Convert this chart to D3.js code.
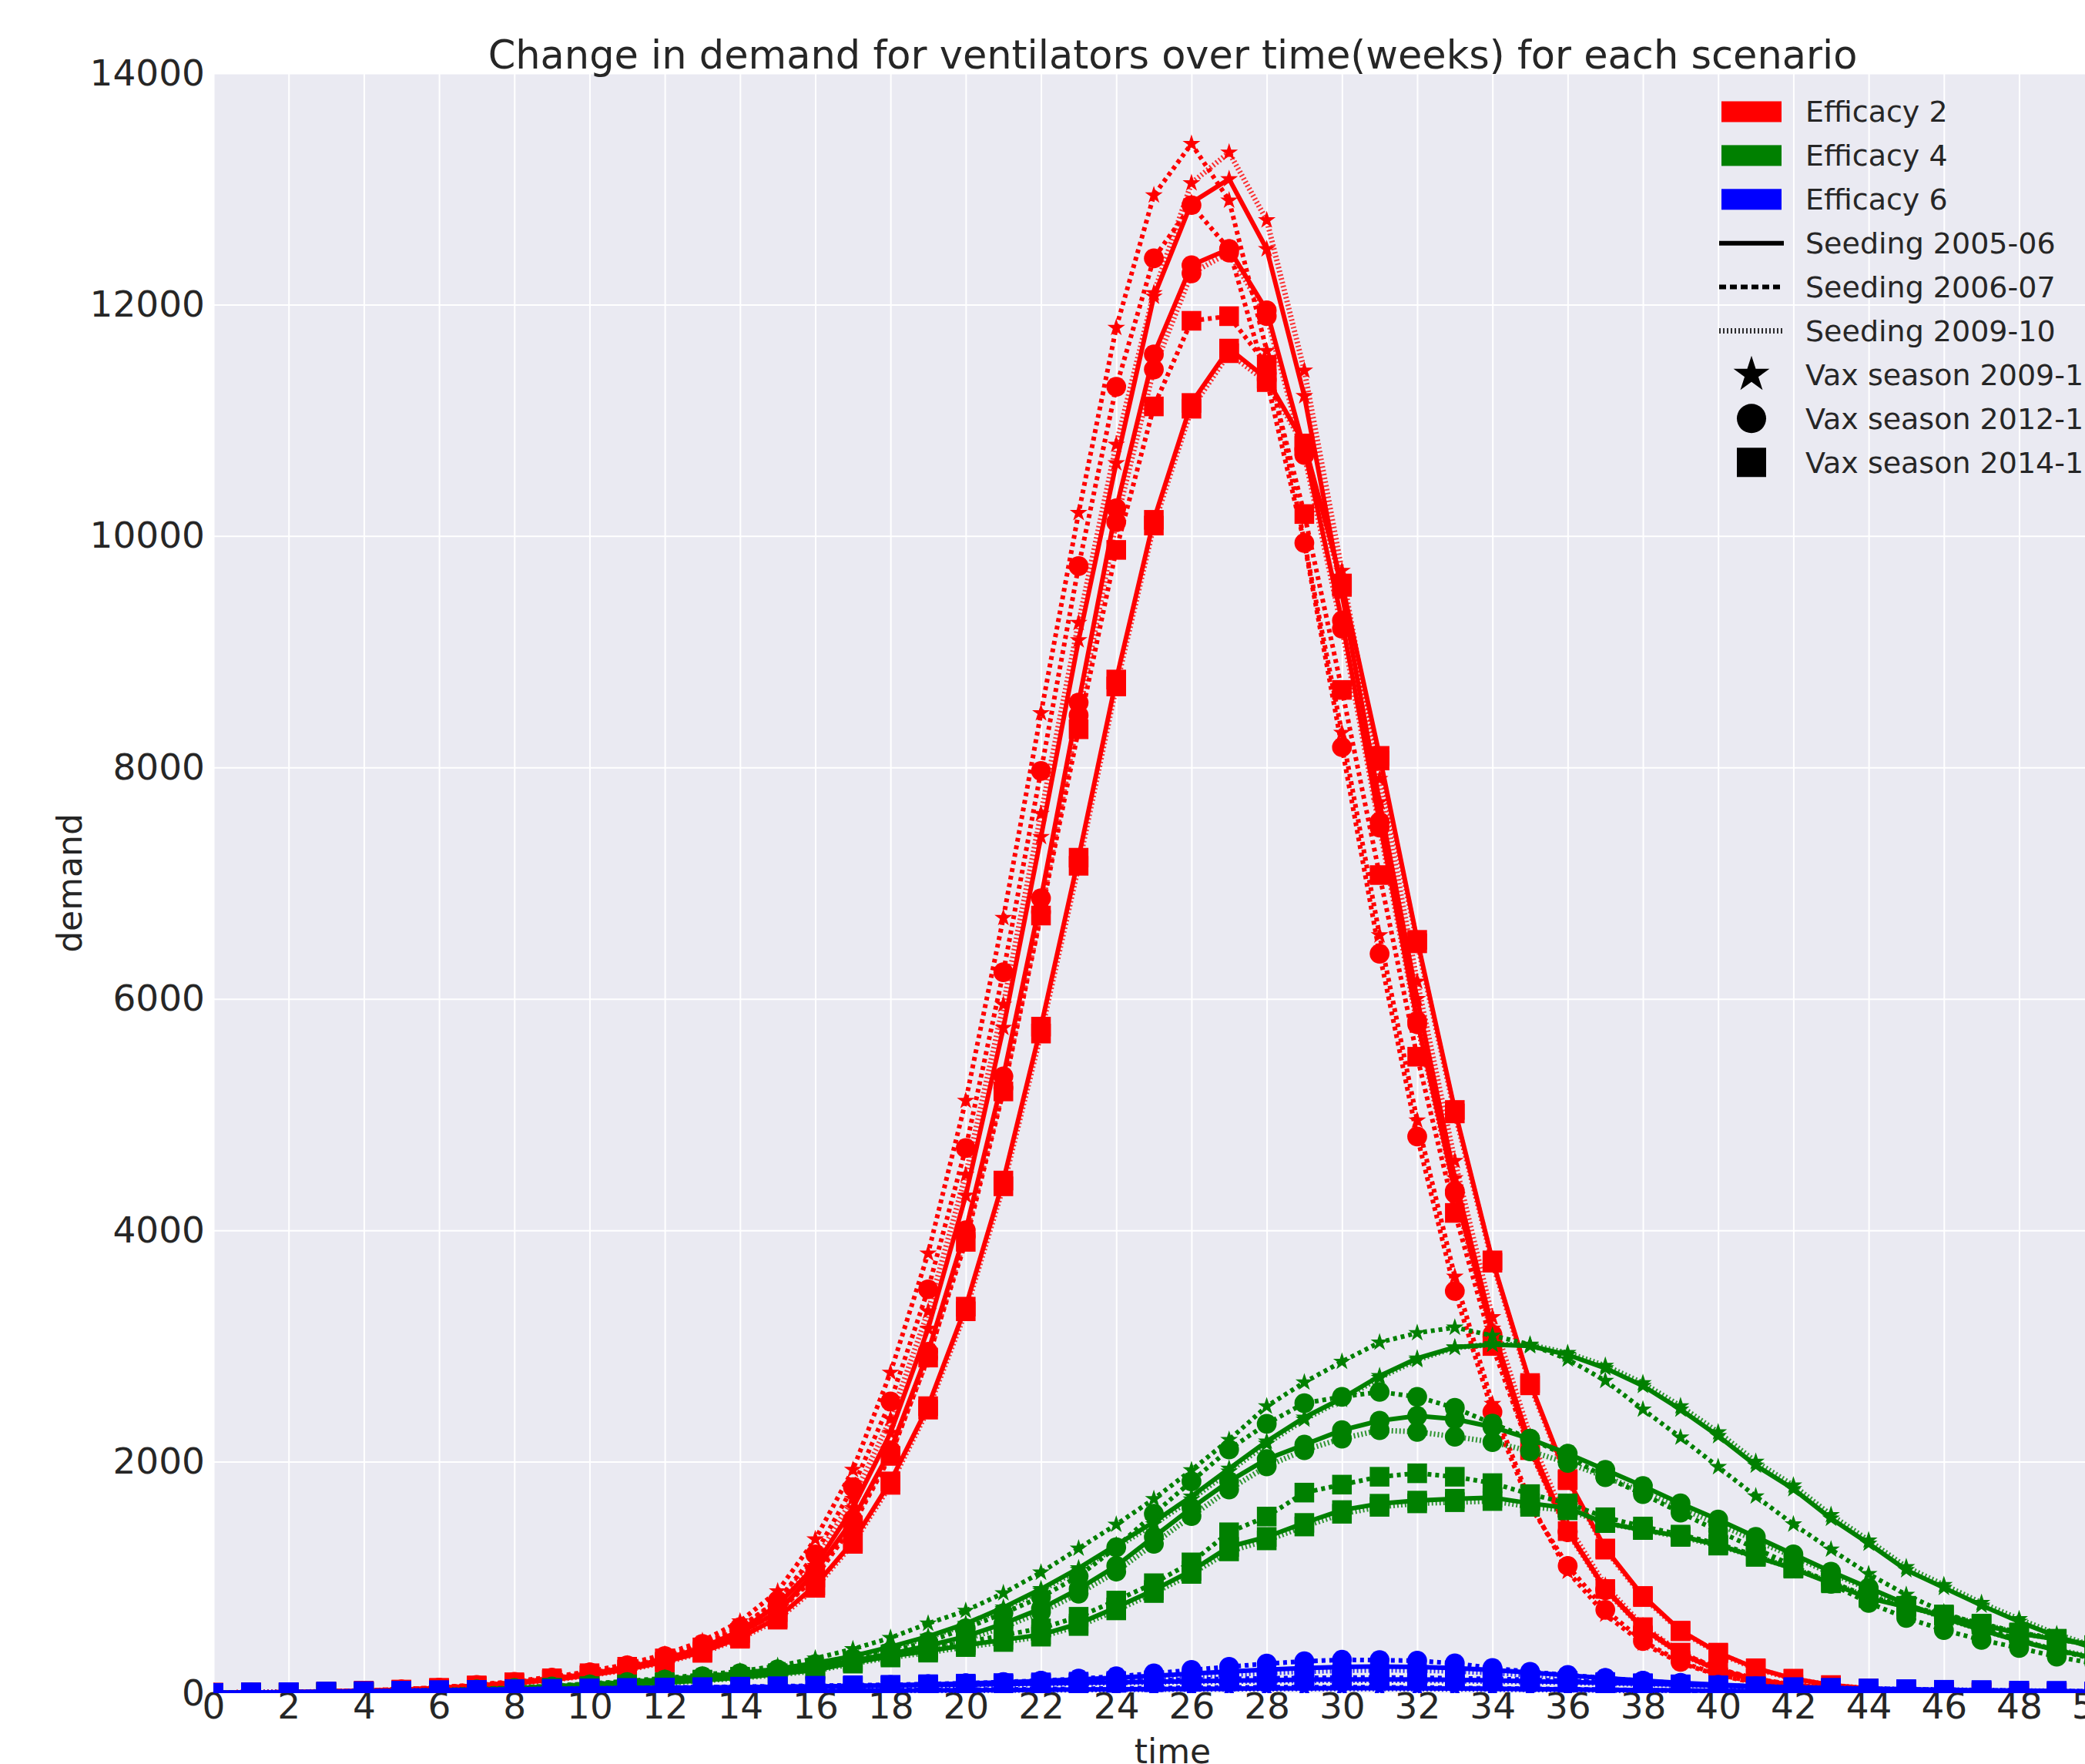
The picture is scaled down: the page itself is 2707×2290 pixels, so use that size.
<!DOCTYPE html>
<html>
<head>
<meta charset="utf-8">
<script src="https://cdn.jsdelivr.net/npm/d3@7"></script>
<style>
body { margin: 0; background: #ffffff; }
svg { display: block; }
</style>
</head>
<body>
<div id="chart"></div>
<script>
var width = 2707;
var height = 2290;

// weeks on the x axis
var weeks = [0, 1, 2, 3, 4, 5, 6, 7, 8, 9, 10, 11, 12, 13, 14, 15, 16, 17, 18, 19, 20, 21, 22, 23, 24, 25,
	26, 27, 28, 29, 30, 31, 32, 33, 34, 35, 36, 37, 38, 39, 40, 41, 42, 43, 44, 45, 46, 47, 48, 49, 50, 51];
var xTicks = [0, 2, 4, 6, 8, 10, 12, 14, 16, 18, 20, 22, 24, 26, 28, 30, 32, 34, 36, 38, 40, 42, 44, 46, 48, 50];
var yTicks = [0, 2000, 4000, 6000, 8000, 10000, 12000, 14000];

var efficacyNames = ["Efficacy 2", "Efficacy 4", "Efficacy 6"];
var seedingNames = ["Seeding 2005-06", "Seeding 2006-07", "Seeding 2009-10"];
var vaxNames = ["Vax season 2009-10", "Vax season 2012-13", "Vax season 2014-15"];

// Efficacy 2 (red)
var red_s1_star = [3, 5, 8, 13, 20, 30, 45, 65, 92, 125,
	168, 222, 295, 395, 540, 760, 1100, 1600, 2250, 3150,
	4300, 5750, 7400, 9100, 10630, 12070, 12880, 13085, 12480, 11210,
	9500, 7700, 6000, 4450, 3150, 2150, 1400, 900, 560, 340,
	200, 118, 68, 40, 23, 13, 8, 5, 3, 2, 1, 1];
var red_s1_circle = [3, 5, 8, 12, 19, 29, 44, 63, 89, 121,
	163, 215, 285, 382, 520, 700, 1050, 1500, 2100, 2950,
	4000, 5330, 6870, 8560, 10240, 11570, 12340, 12480, 11950, 10750,
	9270, 7530, 5810, 4340, 3100, 2120, 1400, 900, 560, 340,
	200, 118, 68, 40, 23, 13, 8, 5, 3, 2, 1, 1];
var red_s1_square = [3, 5, 7, 12, 18, 28, 42, 60, 85, 115,
	155, 205, 270, 355, 480, 650, 930, 1310, 1830, 2480,
	3340, 4430, 5760, 7220, 8760, 10140, 11150, 11620, 11360, 10800,
	9590, 8100, 6510, 5040, 3740, 2680, 1850, 1250, 840, 540,
	350, 215, 125, 70, 40, 22, 12, 7, 4, 2, 1, 1];
var red_s2_star = [3, 5, 9, 14, 22, 33, 50, 72, 102, 140,
	188, 250, 335, 450, 620, 880, 1330, 1930, 2770, 3800,
	5120, 6700, 8470, 10200, 11800, 12945, 13390, 12900, 11600, 9950,
	8300, 6550, 4950, 3600, 2500, 1650, 1050, 680, 430, 260,
	155, 90, 52, 30, 17, 10, 6, 3, 2, 1, 1, 0];
var red_s2_circle = [3, 5, 8, 14, 21, 32, 48, 70, 98, 134,
	180, 240, 320, 425, 570, 800, 1200, 1780, 2520, 3490,
	4710, 6230, 7970, 9740, 11290, 12400, 12860, 12480, 11350, 9940,
	8175, 6390, 4810, 3475, 2430, 1620, 1100, 720, 450, 270,
	160, 95, 55, 32, 18, 10, 6, 3, 2, 1, 1, 0];
var red_s2_square = [3, 5, 8, 13, 20, 31, 46, 67, 94, 128,
	172, 228, 300, 395, 520, 700, 1000, 1450, 2050, 2900,
	3900, 5200, 6720, 8330, 9880, 11120, 11860, 11900, 11480, 10190,
	8670, 7070, 5500, 4150, 3000, 2100, 1400, 900, 570, 350,
	210, 125, 72, 42, 24, 14, 8, 5, 3, 2, 1, 1];
var red_s3_star = [3, 5, 8, 13, 20, 30, 46, 66, 93, 127,
	170, 226, 300, 402, 555, 790, 1150, 1680, 2370, 3300,
	4480, 5950, 7600, 9250, 10790, 12100, 13050, 13315, 12730, 11430,
	9700, 7900, 6150, 4600, 3250, 2220, 1450, 930, 580, 350,
	205, 120, 70, 41, 24, 14, 8, 5, 3, 2, 1, 1];
var red_s3_circle = [3, 5, 8, 12, 19, 29, 43, 62, 88, 120,
	161, 212, 282, 378, 515, 690, 1030, 1480, 2070, 2900,
	3950, 5230, 6750, 8450, 10120, 11440, 12270, 12450, 11900, 10700,
	9200, 7480, 5780, 4320, 3080, 2100, 1390, 890, 555, 335,
	198, 116, 67, 39, 22, 13, 8, 5, 3, 2, 1, 1];
var red_s3_square = [3, 5, 7, 12, 18, 27, 41, 59, 83, 113,
	152, 200, 265, 348, 470, 635, 910, 1290, 1800, 2450,
	3300, 4380, 5700, 7150, 8700, 10090, 11100, 11580, 11330, 10780,
	9560, 8060, 6480, 5010, 3720, 2660, 1840, 1240, 830, 535,
	345, 210, 122, 68, 39, 21, 12, 7, 4, 2, 1, 1];

// Efficacy 4 (green)
var green_s1_star = [1, 2, 4, 7, 11, 16, 23, 32, 44, 58,
	75, 95, 118, 145, 172, 210, 260, 320, 400, 490,
	600, 740, 900, 1080, 1280, 1480, 1700, 1940, 2175, 2382,
	2548, 2741, 2893, 2989, 3013, 3000, 2924, 2809, 2656, 2452,
	2223, 1968, 1764, 1509, 1293, 1064, 911, 758, 618, 490, 389, 310];
var green_s1_circle = [1, 2, 4, 6, 10, 15, 21, 29, 40, 53,
	68, 86, 107, 132, 158, 190, 230, 280, 340, 410,
	490, 600, 730, 900, 1100, 1350, 1600, 1830, 2023, 2147,
	2272, 2354, 2396, 2368, 2300, 2197, 2070, 1930, 1790, 1640,
	1500, 1350, 1200, 1050, 910, 770, 650, 545, 450, 370, 305, 250];
var green_s1_square = [1, 2, 3, 5, 8, 12, 17, 24, 33, 44,
	57, 72, 90, 110, 135, 165, 200, 265, 320, 365,
	415, 460, 505, 600, 740, 891, 1057, 1264, 1350, 1471,
	1582, 1637, 1664, 1680, 1690, 1640, 1600, 1470, 1410, 1357,
	1280, 1178, 1076, 949, 821, 745, 669, 592, 516, 465, 414, 370];
var green_s2_star = [1, 2, 4, 7, 12, 17, 25, 35, 48, 63,
	82, 104, 130, 158, 190, 235, 300, 381, 478, 602,
	712, 864, 1043, 1250, 1457, 1678, 1927, 2189, 2479, 2686,
	2865, 3031, 3113, 3160, 3090, 3013, 2885, 2700, 2452, 2210,
	1955, 1701, 1459, 1242, 1030, 850, 700, 570, 460, 370, 295, 235];
var green_s2_circle = [1, 2, 4, 7, 11, 16, 23, 32, 44, 58,
	75, 95, 118, 145, 172, 205, 250, 300, 360, 445,
	560, 690, 830, 1010, 1260, 1550, 1830, 2106, 2327, 2506,
	2561, 2603, 2561, 2465, 2330, 2200, 2045, 1866, 1720, 1560,
	1400, 1250, 1100, 945, 780, 650, 545, 460, 390, 315, 255, 205];
var green_s2_square = [1, 2, 3, 5, 8, 12, 18, 25, 35, 47,
	60, 76, 95, 117, 142, 172, 210, 275, 335, 385,
	440, 500, 560, 660, 800, 950, 1130, 1390, 1526, 1733,
	1802, 1870, 1900, 1870, 1815, 1720, 1640, 1520, 1440, 1370,
	1290, 1190, 1085, 960, 835, 755, 680, 600, 525, 470, 415, 370];
var green_s3_star = [1, 2, 4, 7, 11, 16, 23, 32, 44, 58,
	75, 95, 118, 145, 170, 206, 255, 312, 390, 480,
	590, 728, 885, 1065, 1260, 1460, 1675, 1915, 2155, 2365,
	2535, 2725, 2880, 2985, 3015, 3010, 2940, 2830, 2680, 2480,
	2255, 2000, 1795, 1540, 1320, 1090, 935, 780, 640, 510, 405, 325];
var green_s3_circle = [1, 2, 4, 6, 10, 14, 20, 28, 38, 50,
	65, 82, 102, 126, 152, 182, 220, 265, 320, 385,
	465, 570, 700, 860, 1050, 1290, 1530, 1760, 1960, 2100,
	2200, 2272, 2258, 2216, 2170, 2090, 1990, 1870, 1740, 1600,
	1460, 1320, 1180, 1035, 900, 765, 650, 545, 455, 375, 310, 255];
var green_s3_square = [1, 2, 3, 5, 8, 12, 17, 23, 32, 42,
	55, 70, 87, 107, 130, 158, 192, 255, 308, 350,
	398, 442, 488, 580, 715, 865, 1030, 1225, 1320, 1440,
	1550, 1610, 1640, 1650, 1660, 1610, 1580, 1470, 1410, 1350,
	1275, 1180, 1080, 955, 830, 750, 675, 598, 520, 468, 416, 372];

// Efficacy 6 (blue)
var blue_s1_star = [0, 1, 1, 2, 3, 4, 5, 6, 7, 8,
	9, 10, 11, 12, 14, 15, 17, 19, 21, 23,
	25, 27, 29, 31, 33, 35, 37, 39, 41, 42,
	43, 43, 42, 40, 38, 35, 32, 29, 26, 23,
	20, 17, 15, 13, 11, 9, 8, 7, 6, 5, 4, 3];
var blue_s1_circle = [1, 2, 3, 4, 6, 8, 10, 13, 16, 19,
	23, 27, 31, 36, 41, 47, 53, 60, 67, 75,
	84, 94, 105, 118, 133, 150, 168, 186, 203, 217,
	226, 230, 227, 217, 200, 178, 154, 130, 108, 89,
	73, 59, 48, 39, 31, 25, 20, 16, 13, 10, 8, 7];
var blue_s1_square = [2, 5, 8, 12, 16, 20, 24, 28, 32, 36,
	40, 43, 46, 49, 52, 55, 58, 62, 66, 70,
	74, 78, 83, 88, 93, 98, 103, 108, 112, 116,
	118, 119, 118, 115, 110, 104, 97, 89, 81, 73,
	65, 57, 50, 44, 38, 33, 28, 24, 21, 18, 15, 13];
var blue_s2_star = [0, 1, 2, 3, 4, 5, 6, 7, 8, 9,
	10, 12, 13, 15, 17, 19, 21, 23, 25, 28,
	30, 32, 35, 38, 41, 44, 47, 49, 51, 52,
	52, 51, 49, 46, 42, 38, 34, 30, 26, 22,
	19, 16, 14, 12, 10, 8, 7, 6, 5, 4, 3, 3];
var blue_s2_circle = [1, 2, 3, 5, 7, 9, 12, 15, 18, 22,
	26, 30, 34, 39, 44, 50, 56, 63, 70, 78,
	86, 96, 108, 125, 145, 170, 200, 228, 255, 275,
	288, 285, 280, 257, 217, 184, 157, 130, 106, 85,
	68, 54, 43, 34, 27, 21, 17, 13, 10, 8, 6, 5];
var blue_s2_square = [2, 5, 8, 12, 16, 20, 24, 28, 32, 36,
	40, 44, 48, 52, 56, 60, 64, 68, 72, 77,
	82, 87, 93, 99, 105, 111, 117, 123, 128, 132,
	135, 135, 133, 129, 123, 115, 106, 96, 86, 76,
	67, 59, 51, 45, 39, 33, 29, 25, 21, 18, 15, 13];
var blue_s3_star = [0, 1, 1, 2, 3, 3, 4, 5, 6, 7,
	8, 9, 10, 11, 12, 14, 15, 17, 19, 21,
	23, 25, 27, 29, 31, 33, 34, 36, 37, 38,
	38, 38, 37, 35, 33, 31, 28, 25, 22, 20,
	17, 15, 13, 11, 10, 8, 7, 6, 5, 4, 3, 3];
var blue_s3_circle = [1, 2, 3, 4, 5, 7, 9, 11, 14, 17,
	20, 24, 28, 32, 37, 42, 47, 53, 60, 67,
	75, 84, 94, 105, 118, 132, 147, 162, 176, 188,
	196, 200, 198, 190, 176, 158, 137, 116, 97, 80,
	65, 53, 43, 35, 28, 22, 18, 14, 11, 9, 7, 6];
var blue_s3_square = [2, 5, 8, 12, 16, 20, 24, 28, 32, 36,
	39, 42, 45, 48, 51, 54, 57, 60, 63, 67,
	71, 75, 79, 84, 89, 94, 98, 102, 105, 108,
	110, 110, 109, 106, 102, 97, 91, 84, 77, 70,
	63, 56, 49, 43, 37, 32, 28, 24, 20, 17, 14, 12];

var colors = ["#ff0000", "#008000", "#0000ff"];
var dashes = [null, "5,5", "2,3"];
var widths = [6, 6, 7];
var symbols = [d3.symbolStar, d3.symbolCircle, d3.symbolSquare];
var symbolSizes = [165, 520, 650];
var legendSizes = [680, 1134, 1444];

// efficacy -> seeding -> vax season
var grid = [
	[[red_s1_star, red_s1_circle, red_s1_square],
	 [red_s2_star, red_s2_circle, red_s2_square],
	 [red_s3_star, red_s3_circle, red_s3_square]],
	[[green_s1_star, green_s1_circle, green_s1_square],
	 [green_s2_star, green_s2_circle, green_s2_square],
	 [green_s3_star, green_s3_circle, green_s3_square]],
	[[blue_s1_star, blue_s1_circle, blue_s1_square],
	 [blue_s2_star, blue_s2_circle, blue_s2_square],
	 [blue_s3_star, blue_s3_circle, blue_s3_square]]
];

var plotLeft = 277, plotRight = 2768, plotTop = 95, plotBottom = 2198;
var font = "'DejaVu Sans', sans-serif";
var ink = "#262626";

var x = d3.scaleLinear().domain([0, 51]).range([plotLeft, plotRight]);
var y = d3.scaleLinear().domain([0, 14000]).range([plotBottom, plotTop]);

var svg = d3.select("#chart")
	.append("svg")
		.attr("width", width)
		.attr("height", height);

svg.append("rect")
	.attr("x", plotLeft).attr("y", plotTop)
	.attr("width", plotRight - plotLeft).attr("height", plotBottom - plotTop)
	.attr("fill", "#eaeaf2");

svg.append("clipPath").attr("id", "plotclip")
	.append("rect")
		.attr("x", plotLeft).attr("y", plotTop)
		.attr("width", plotRight - plotLeft).attr("height", plotBottom - plotTop);

// grid lines
svg.append("g")
	.attr("transform", "translate(0," + plotBottom + ")")
	.call(d3.axisBottom(x).tickValues(xTicks).tickSize(-(plotBottom - plotTop)).tickFormat(""))
	.call(function (g) { g.select(".domain").remove(); })
	.selectAll("line").attr("stroke", "#ffffff").attr("stroke-width", 2);

svg.append("g")
	.attr("transform", "translate(" + plotLeft + ",0)")
	.call(d3.axisLeft(y).tickValues(yTicks).tickSize(-(plotRight - plotLeft)).tickFormat(""))
	.call(function (g) { g.select(".domain").remove(); })
	.selectAll("line").attr("stroke", "#ffffff").attr("stroke-width", 2);

// tick labels
var xAxis = svg.append("g")
	.attr("transform", "translate(0," + plotBottom + ")")
	.call(d3.axisBottom(x).tickValues(xTicks).tickSize(0).tickPadding(0));
xAxis.select(".domain").remove();
xAxis.attr("font-family", font).attr("font-size", 47);
xAxis.selectAll("text").attr("fill", ink);

var yAxis = svg.append("g")
	.attr("transform", "translate(" + plotLeft + ",0)")
	.call(d3.axisLeft(y).tickValues(yTicks).tickFormat(d3.format("d")).tickSize(0).tickPadding(11));
yAxis.select(".domain").remove();
yAxis.attr("font-family", font).attr("font-size", 47);
yAxis.selectAll("text").attr("fill", ink);

var line = d3.line()
	.x(function (d, i) { return x(weeks[i]); })
	.y(function (d) { return y(d); });

var plot = svg.append("g").attr("clip-path", "url(#plotclip)");

grid.forEach(function (bySeeding, e) {
	bySeeding.forEach(function (byVax, s) {
		byVax.forEach(function (values, v) {
			var g = plot.append("g");
			g.append("path")
				.attr("d", line(values))
				.attr("fill", "none")
				.attr("stroke", colors[e])
				.attr("stroke-width", widths[s])
				.attr("stroke-dasharray", dashes[s])
				.attr("opacity", s == 2 ? 0.8 : 1);
			g.selectAll("path.m")
				.data(values)
				.enter()
					.append("path")
						.attr("class", "m")
						.attr("d", d3.symbol().type(symbols[v]).size(symbolSizes[v]))
						.attr("transform", function (d, i) { return "translate(" + x(weeks[i]) + "," + y(d) + ")"; })
						.attr("fill", colors[e]);
		});
	});
});

// title and axis labels
svg.append("text")
	.attr("x", (plotLeft + plotRight) / 2).attr("y", 89)
	.attr("text-anchor", "middle")
	.attr("font-family", font).attr("font-size", 51).attr("fill", ink)
	.text("Change in demand for ventilators over time(weeks) for each scenario");

svg.append("text")
	.attr("x", (plotLeft + plotRight) / 2).attr("y", 2289)
	.attr("text-anchor", "middle")
	.attr("font-family", font).attr("font-size", 44).attr("fill", ink)
	.text("time");

svg.append("text")
	.attr("transform", "translate(106," + (plotTop + plotBottom) / 2 + ") rotate(-90)")
	.attr("text-anchor", "middle")
	.attr("font-family", font).attr("font-size", 44).attr("fill", ink)
	.text("demand");

// legend
var legend = svg.append("g");
var rowY = function (i) { return 145 + i * 56.9; };
var keyX = 2235, textX = 2344;

efficacyNames.forEach(function (name, i) {
	legend.append("rect")
		.attr("x", keyX).attr("y", rowY(i) - 13.5)
		.attr("width", 78).attr("height", 27)
		.attr("fill", colors[i]);
});
seedingNames.forEach(function (name, i) {
	legend.append("line")
		.attr("x1", keyX - 3).attr("x2", keyX + 81)
		.attr("y1", rowY(3 + i)).attr("y2", rowY(3 + i))
		.attr("stroke", "#000000")
		.attr("stroke-width", widths[i])
		.attr("stroke-dasharray", i == 1 ? "9,5" : dashes[i])
		.attr("opacity", i == 2 ? 0.8 : 1);
});
vaxNames.forEach(function (name, i) {
	legend.append("path")
		.attr("d", d3.symbol().type(symbols[i]).size(legendSizes[i]))
		.attr("transform", "translate(" + (keyX + 39) + "," + rowY(6 + i) + ")")
		.attr("fill", "#000000");
});

legend.selectAll("text")
	.data(efficacyNames.concat(seedingNames, vaxNames))
	.enter()
		.append("text")
			.attr("x", textX)
			.attr("y", function (d, i) { return rowY(i); })
			.attr("dy", "0.35em")
			.attr("font-family", font).attr("font-size", 38).attr("fill", ink)
			.text(function (d) { return d; });
</script>
</body>
</html>
